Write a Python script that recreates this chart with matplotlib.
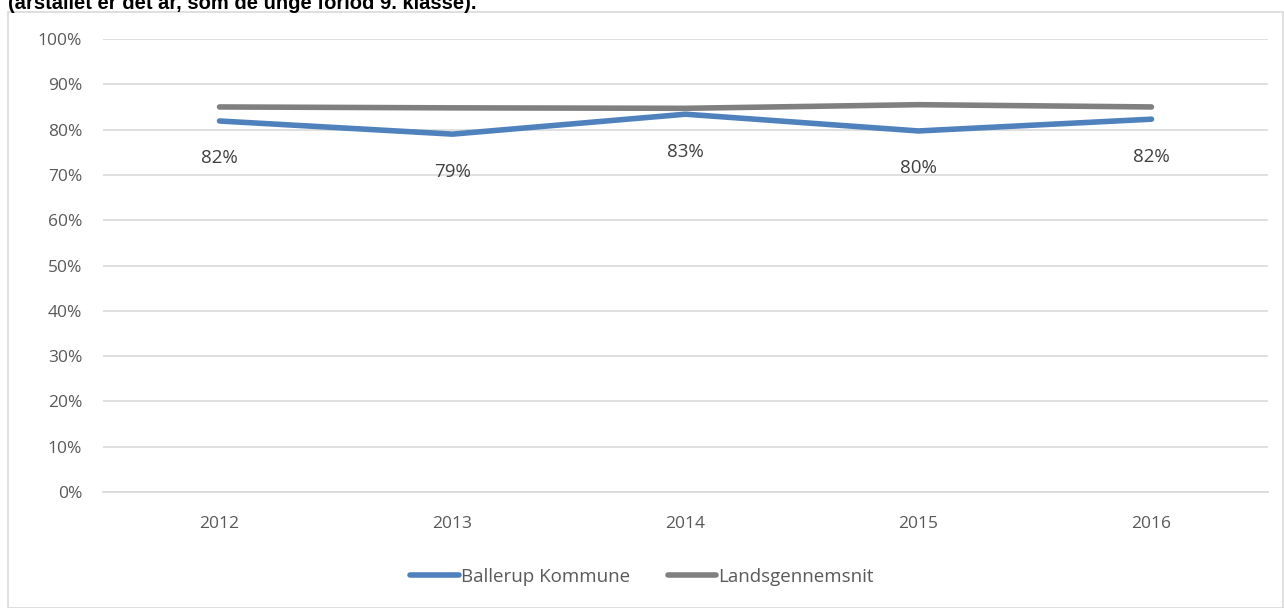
import matplotlib.pyplot as plt
from matplotlib.patches import Rectangle

years = ["2012", "2013", "2014", "2015", "2016"]
ballerup = [81.9, 79.0, 83.4, 79.7, 82.3]
lands = [85.0, 84.8, 84.7, 85.5, 85.0]
ballerup_labels = ["82%", "79%", "83%", "80%", "82%"]
yticks = list(range(0, 101, 10))

W, H = 1284, 608
fig = plt.figure(figsize=(W / 100, H / 100), dpi=100)
plt.rcParams["font.family"] = ["Open Sans", "DejaVu Sans"]

# ramme om diagrammet
fig.patches.append(Rectangle((8 / W, 0), (W - 9) / W, 1 - 12 / H, transform=fig.transFigure,
                             fill=False, edgecolor="#d9d9d9", linewidth=1.2))

# titel (skåret af foroven i originalen)
fig.text(8 / W, 1 - 9 / H, "(årstallet er det år, som de unge forlod 9. klasse).",
         fontsize=14.5, fontweight="bold", family="Liberation Sans", va="baseline", ha="left")

ax = fig.add_axes([103 / W, 1 - 492 / H, (1268 - 103) / W, (492 - 39) / H])
x = list(range(len(years)))
ax.plot(x, ballerup, color="#4f81bd", linewidth=4, solid_capstyle="round", label="Ballerup Kommune")
ax.plot(x, lands, color="#808080", linewidth=4, solid_capstyle="round", label="Landsgennemsnit")

for xi, v, lab in zip(x, ballerup, ballerup_labels):
    ax.annotate(lab, (xi, v), xytext=(0, -27), textcoords="offset points",
                ha="center", va="center", fontsize=13.5, color="#404040")

ax.set_xlim(-0.5, len(years) - 0.5)
ax.set_ylim(0, 100)
ax.set_yticks(yticks)
ax.set_yticklabels([f"{t}%" for t in yticks])
ax.set_xticks(x)
ax.set_xticklabels(years)
ax.grid(axis="y", color="#d9d9d9", linewidth=1.2)
ax.set_axisbelow(True)
for s in ["top", "right", "left"]:
    ax.spines[s].set_visible(False)
ax.spines["bottom"].set_color("#d9d9d9")
ax.spines["bottom"].set_linewidth(1.2)
ax.tick_params(length=0, labelsize=12.5, labelcolor="#595959")
ax.tick_params(axis="y", pad=15)
ax.tick_params(axis="x", pad=17)

fig.legend(loc="center", bbox_to_anchor=(0.5, 1 - 577 / H), ncol=2, frameon=False,
           fontsize=13.5, labelcolor="#595959", handlelength=2.6, handletextpad=0.1,
           columnspacing=2.0)

fig.savefig("out.png", dpi=100)
